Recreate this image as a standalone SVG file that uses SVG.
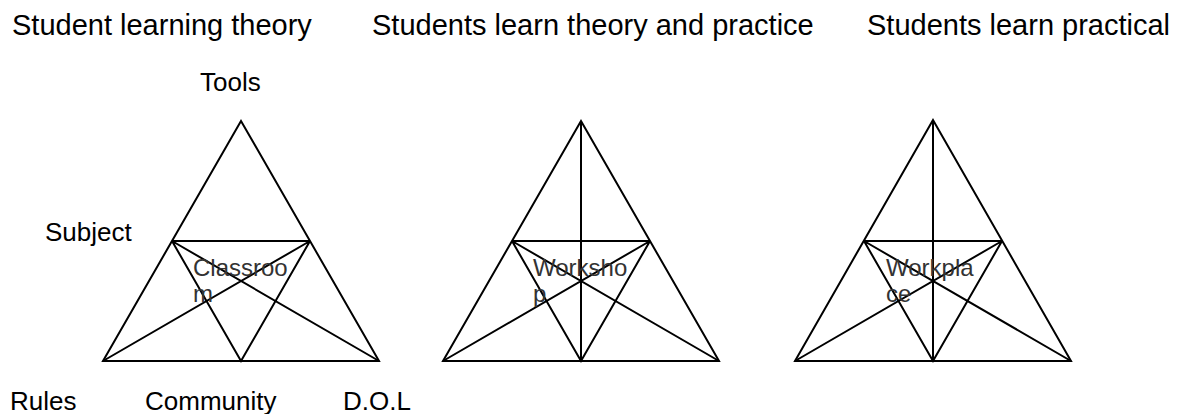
<svg xmlns="http://www.w3.org/2000/svg" width="1189" height="414" viewBox="0 0 1189 414">
<style>
.ln{stroke:#000;stroke-width:2;fill:none;stroke-linejoin:miter}
.hd{font-family:"Liberation Sans",Arial,sans-serif;font-size:29px;fill:#000}
.lb{font-family:"Liberation Sans",Arial,sans-serif;font-size:26px;fill:#000}
.in{font-family:"Liberation Sans",Arial,sans-serif;font-size:24px;fill:#333}
</style>
<rect width="1189" height="414" fill="#fff"/>
<g id="headers">
<text class="hd" x="12" y="35">Student learning theory</text>
<text class="hd" x="372" y="35">Students learn theory and practice</text>
<text class="hd" x="867" y="35">Students learn practical</text>
</g>
<g id="labels">
<text class="lb" x="200" y="91">Tools</text>
<text class="lb" x="45" y="241">Subject</text>
<text class="lb" x="10" y="410">Rules</text>
<text class="lb" x="145" y="410">Community</text>
<text class="lb" x="343" y="410">D.O.L</text>
</g>
<g id="triangle-classroom">
<polygon class="ln" points="241,121 103,361 379,361"/>
<path class="ln" d="M172,241 H310 M103,361 L310,241 M379,361 L172,241 M172,241 L241,361 L310,241"/>
<text class="in" x="193" y="276">Classroo</text>
<text class="in" x="193" y="302">m</text>
</g>
<g id="triangle-workshop">
<polygon class="ln" points="581,121 443,361 719,361"/>
<path class="ln" d="M512,241 H650 M443,361 L650,241 M719,361 L512,241 M512,241 L581,361 L650,241 M581,121 V361"/>
<text class="in" x="533" y="276">Worksho</text>
<text class="in" x="533" y="302">p</text>
</g>
<g id="triangle-workplace">
<polygon class="ln" points="933,120 795,361 1071,361"/>
<path class="ln" d="M864,241 H1002 M795,361 L1002,241 M1071,361 L864,241 M864,241 L933,361 L1002,241 M933,120 V361"/>
<text class="in" x="886" y="276">Workpla</text>
<text class="in" x="886" y="302">ce</text>
</g>
</svg>
